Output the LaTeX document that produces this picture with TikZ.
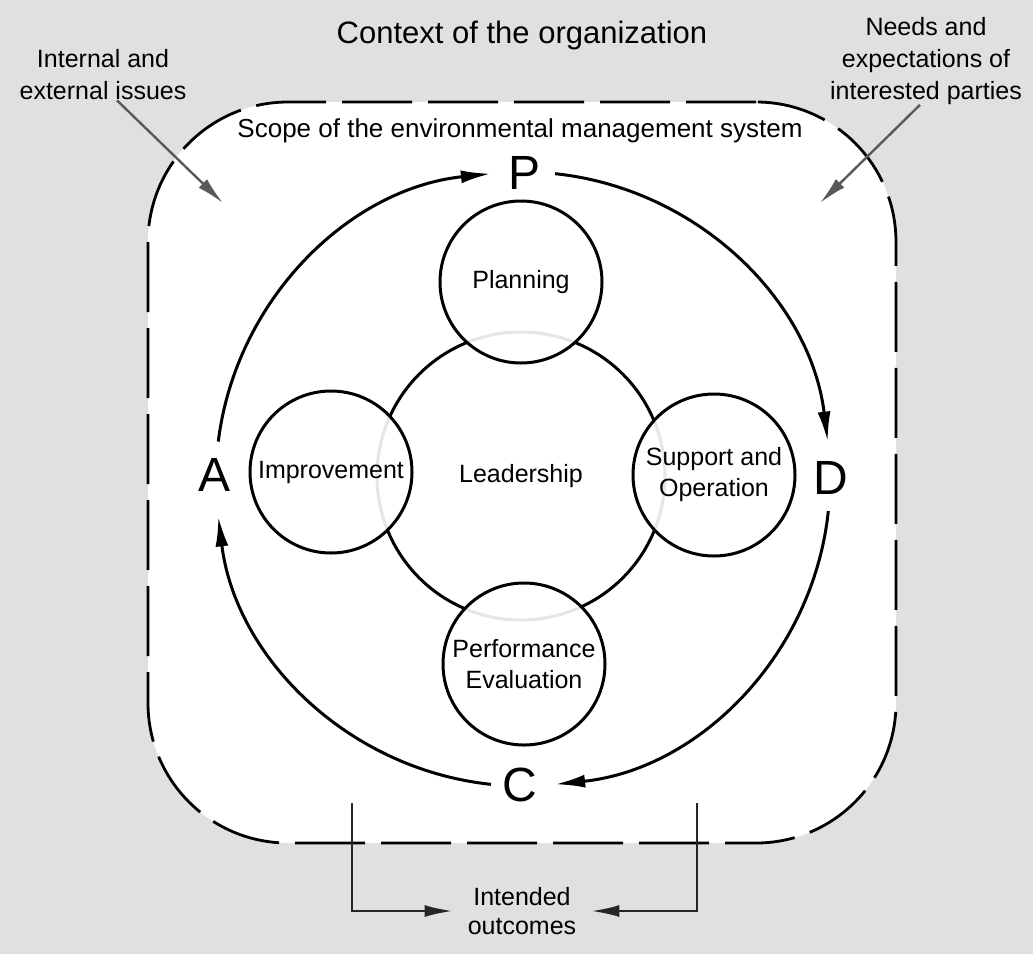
\documentclass[tikz,border=0pt]{standalone}
\usepackage{fontspec}
\setmainfont{Liberation Sans}
\usetikzlibrary{arrows.meta}
\definecolor{bgc}{HTML}{E0E0E0}
\begin{document}
\begin{tikzpicture}[x=1pt,y=-1pt,
  lbl/.style={font=\fontsize{25}{32}\selectfont, align=center, inner sep=0pt},
  ring/.style={circle, draw=black, line width=3pt, inner sep=0pt, font=\fontsize{25}{31}\selectfont, align=center},
  sub/.style={ring, fill=white, fill opacity=0.9, text opacity=1, minimum size=162pt},
  cyc/.style={line width=3pt, -{Latex[length=30pt,width=13pt]}},
  pdca/.style={font=\fontsize{48}{48}\selectfont, inner sep=0pt},
  feed/.style={draw=black!65, line width=2.4pt, -{Latex[length=28pt,width=12pt]}},
  outline/.style={draw=black, line width=2.8pt, fill=white, rounded corners=140pt, dash pattern=on 70pt off 16pt},
]
% background and bounding box
\fill[bgc] (0,0) rectangle (1033,954);
\useasboundingbox (0,0) rectangle (1033,954);

% scope outline
\node[outline, minimum width=748pt, minimum height=741pt] (scope) at (522,472.5) {};

% texts at top
\node[font=\fontsize{31}{31}\selectfont, inner sep=0pt, anchor=base] (ctx) at (522,43) {Context of the organization};
\node[font=\fontsize{26}{26}\selectfont, inner sep=0pt, anchor=base] (scopelbl) at (520,137) {Scope of the environmental management system};
\node[lbl] (iss) at (103,75) {Internal and\\external issues};
\node[lbl] (needs) at (926,61) {Needs and\\expectations of\\interested parties};

% PDCA letters
\coordinate (O) at (523,479);
\node[pdca] (P) at (525,173) {P};
\node[pdca] (D) at (831,478) {D};
\node[pdca] (C) at (520,785) {C};
\node[pdca] (A) at (215,475) {A};

% PDCA cycle arcs
\draw[cyc] ([shift={(187:307)}]O) arc[start angle=187, end angle=264, radius=307];
\draw[cyc] ([shift={(276:307)}]O) arc[start angle=276, end angle=353, radius=307];
\draw[cyc] ([shift={(6:307)}]O) arc[start angle=6, end angle=84, radius=307];
\draw[cyc] ([shift={(96:307)}]O) arc[start angle=96, end angle=173, radius=307];

% central circles
\node[ring, minimum size=288pt] (lead) at (521,476) {Leadership};
\node[sub] (plan) at (521,282) {Planning};
\node[sub] (impr) at (331,472) {Improvement};
\node[sub] (supp) at (714,475) {Support and\\Operation};
\node[sub] (perf) at (524,664) {Performance\\Evaluation};

% input arrows
\coordinate (issT) at (223,203);
\coordinate (needsT) at (820,203);
\draw[feed] ([xshift=14pt]iss.south) -- (issT);
\draw[feed] ([xshift=-6pt]needs.south) -- (needsT);

% intended outcomes
\node[lbl, font=\fontsize{25}{29}\selectfont, inner xsep=15pt] (io) at (522,911) {Intended\\outcomes};
\coordinate (o1) at (352,803);
\coordinate (o2) at (697,803);
\draw[feed, draw=black!85] (o1) |- (io);
\draw[feed, draw=black!85] (o2) |- (io);
\end{tikzpicture}
\end{document}
